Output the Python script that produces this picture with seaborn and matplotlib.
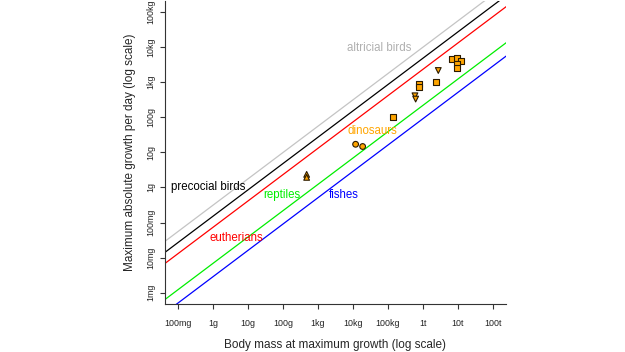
import numpy as np
import pandas as pd
import matplotlib
matplotlib.use("Agg")
import matplotlib.pyplot as plt
import seaborn as sns

# allometric growth lines (log-log): growth in g/day at 1 g body mass, shared slope
groups = ["altricial birds", "precocial birds", "eutherians", "reptiles", "fishes"]
growth_at_1g = [0.311, 0.151, 0.073, 0.00686, 0.00286]
slope = 0.75
line_range = [1e-2, 1e9]  # body mass span (g) the lines are drawn over

# dinosaurs: body mass (g) and maximum growth (g/day)
dino_mass = [6.75e6, 9.35e6, 1.22e7, 9.35e6, 9.35e6, 2.35e6, 7.83e5, 7.83e5, 1.39e5,
             2.74e6, 5.9e5, 6.18e5,
             1.19e4, 1.89e4,
             4.75e2, 4.75e2]
dino_growth = [4540, 4850, 3980, 3380, 2510, 979, 877, 706, 100,
               2130, 406, 327,
               16.9, 14.6,
               2.35, 1.93]
dino_shape = ["s"] * 9 + ["v"] * 3 + ["o"] * 2 + ["^"] * 2

x_ticks = [1e-1, 1, 1e1, 1e2, 1e3, 1e4, 1e5, 1e6, 1e7, 1e8]
x_labels = ["100mg", "1g", "10g", "100g", "1kg", "10kg", "100kg", "1t", "10t", "100t"]
y_ticks = [1e-3, 1e-2, 1e-1, 1, 1e1, 1e2, 1e3, 1e4, 1e5]
y_labels = ["1mg", "10mg", "100mg", "1g", "10g", "100g", "1kg", "10kg", "100kg"]

colors = {"altricial birds": "#c4c4c4", "precocial birds": "#000000",
          "eutherians": "#ff0000", "reptiles": "#00ee00", "fishes": "#0000ff"}
text_colors = dict(colors, **{"altricial birds": "#b0b0b0", "dinosaurs": "#ffa500"})

rows = []
for g, a in zip(groups, growth_at_1g):
    for m in line_range:
        rows.append({"group": g, "mass": m, "growth": a * m ** slope})
lines = pd.DataFrame(rows)
dinos = pd.DataFrame({"mass": dino_mass, "growth": dino_growth, "shape": dino_shape})

sns.set_style("ticks")
plt.rcParams["font.family"] = ["Liberation Sans", "DejaVu Sans"]

fig = plt.figure(figsize=(6.25, 3.52), dpi=100)
ax = fig.add_axes([0.2646, 0.1364, 0.5443, 0.862])
ax.set_xscale("log")
ax.set_yscale("log")

sns.lineplot(data=lines, x="mass", y="growth", hue="group", palette=colors,
             estimator=None, units="group", legend=False, linewidth=0.9, ax=ax)
sns.scatterplot(data=dinos, x="mass", y="growth", style="shape",
                markers={"s": "s", "v": "v", "o": "o", "^": "^"},
                color="#ffa500", edgecolor="#2a1a00", linewidth=0.8, s=17,
                legend=False, ax=ax, zorder=3)

label_pos = {
    "altricial birds": (5.5e4, 9.4e3),
    "precocial birds": (0.72, 1.0),
    "eutherians": (4.5, 0.037),
    "reptiles": (93.5, 0.59),
    "fishes": (5.5e3, 0.59),
    "dinosaurs": (3.7e4, 40),
}
for name, (x, y) in label_pos.items():
    ax.text(x, y, name, color=text_colors[name], fontsize=8.3,
            ha="center", va="center")

ax.set_xlim(10 ** -1.36, 10 ** 8.36)
ax.set_ylim(10 ** -3.32, 10 ** 5.32)
ax.set_xticks(x_ticks)
ax.set_xticklabels(x_labels)
ax.set_yticks(y_ticks)
ax.set_yticklabels(y_labels, rotation=90, va="center")
ax.minorticks_off()
ax.tick_params(axis="both", labelsize=6.4, length=3.6, width=0.8, color="#333333",
               labelcolor="#222222")
ax.tick_params(axis="x", pad=7)
ax.tick_params(axis="y", pad=4)
for side in ["top", "right"]:
    ax.spines[side].set_visible(False)
for side in ["left", "bottom"]:
    ax.spines[side].set_linewidth(0.8)
    ax.spines[side].set_color("#333333")

ax.set_xlabel("Body mass at maximum growth (log scale)", fontsize=8.5, labelpad=8)
ax.set_ylabel("Maximum absolute growth per day (log scale)", fontsize=8.5, labelpad=7)

fig.savefig("out.png", dpi=100)
